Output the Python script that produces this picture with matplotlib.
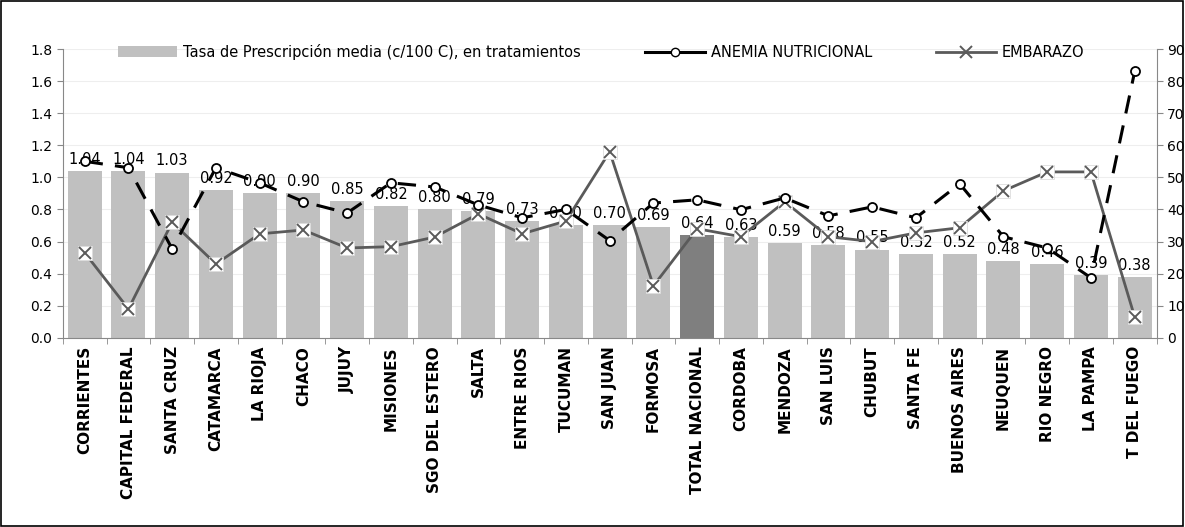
import matplotlib
matplotlib.use("Agg")
import matplotlib.pyplot as plt
from matplotlib.patches import Patch
from matplotlib.lines import Line2D
import numpy as np

provincias = ["CORRIENTES", "CAPITAL FEDERAL", "SANTA CRUZ", "CATAMARCA", "LA RIOJA",
              "CHACO", "JUJUY", "MISIONES", "SGO DEL ESTERO", "SALTA", "ENTRE RIOS",
              "TUCUMAN", "SAN JUAN", "FORMOSA", "TOTAL NACIONAL", "CORDOBA", "MENDOZA",
              "SAN LUIS", "CHUBUT", "SANTA FE", "BUENOS AIRES", "NEUQUEN", "RIO NEGRO",
              "LA PAMPA", "T DEL FUEGO"]
tasa = [1.04, 1.04, 1.03, 0.92, 0.90, 0.90, 0.85, 0.82, 0.80, 0.79, 0.73, 0.70, 0.70,
        0.69, 0.64, 0.63, 0.59, 0.58, 0.55, 0.52, 0.52, 0.48, 0.46, 0.39, 0.38]
anemia = [55, 53, 27.7, 53, 48.3, 42.4, 38.9, 48.3, 47, 41.4, 37.4, 40, 30.3, 42, 43,
          39.9, 43.6, 38, 40.8, 37.4, 48, 31.5, 28, 18.7, 83]
embarazo = [26.5, 9, 36, 23, 32.4, 33.6, 28, 28.4, 31.4, 38.6, 32.4, 36.4, 58, 16.2, 34,
            31.5, 42.4, 31.5, 30, 32.7, 34.3, 45.8, 51.7, 51.7, 6.5]
highlight = "TOTAL NACIONAL"

fig = plt.figure(figsize=(11.85, 5.27), dpi=100)
fig.patches.append(plt.Rectangle((0.001, 0.002), 0.997, 0.996, transform=fig.transFigure,
                                 fill=False, edgecolor="black", linewidth=1.2))
ax = fig.add_axes([0.053, 0.359, 0.923, 0.548])
x = np.arange(len(provincias))
colors = ["#7f7f7f" if p == highlight else "#c0c0c0" for p in provincias]
ax.bar(x, tasa, width=0.78, color=colors, zorder=2)
ax.set_ylim(0, 1.8)
ax.set_yticks(np.arange(0, 1.81, 0.2))
ax.set_yticklabels([f"{v:.1f}" for v in np.arange(0, 1.81, 0.2)], fontsize=10)
ax.set_xlim(-0.5, len(provincias) - 0.5)
ax.set_xticks(x)
ax.set_xticklabels(provincias, rotation=90, fontsize=11, fontweight="bold")
ax.set_xticks(np.arange(-0.5, len(provincias), 1), minor=True)
ax.tick_params(axis="x", which="major", length=0, pad=6)
ax.tick_params(axis="x", which="minor", length=4, color="#888888")
ax.tick_params(axis="y", length=4, color="#888888")
ax.grid(axis="y", color="#eeeeee", linewidth=0.8, zorder=0)
for s in ["top", "right"]:
    ax.spines[s].set_visible(False)
ax.spines["left"].set_color("#888888")
ax.spines["bottom"].set_color("#888888")

for xi, v in zip(x, tasa):
    ax.annotate(f"{v:.2f}", (xi, v), xytext=(0, 3), textcoords="offset points",
                ha="center", va="bottom", fontsize=10.5, zorder=6)

ax2 = ax.twinx()
ax2.set_ylim(0, 90)
ax2.set_yticks(np.arange(0, 91, 10))
ax2.tick_params(axis="y", labelsize=10, length=4, color="#888888")
for s in ["top", "left"]:
    ax2.spines[s].set_visible(False)
ax2.spines["right"].set_color("#888888")
ax2.spines["bottom"].set_visible(False)

ax2.plot(x, anemia, color="black", linewidth=2.2, dashes=(6, 4), marker="o",
         markersize=6.5, markerfacecolor="white", markeredgecolor="black",
         markeredgewidth=1.3, zorder=4)
ax2.plot(x, embarazo, color="#5a5a5a", linewidth=2.0, zorder=3)
ax2.plot(x, embarazo, linestyle="none", marker="s", markersize=9.5,
         markerfacecolor="white", markeredgecolor="#dddddd", markeredgewidth=0.6, zorder=3.5)
ax2.plot(x, embarazo, linestyle="none", marker="x", markersize=8,
         markeredgecolor="#5a5a5a", markeredgewidth=1.4, zorder=3.6)

handles = [Patch(facecolor="#c0c0c0", edgecolor="none"),
           Line2D([], [], color="black", linewidth=2.2, marker="o", markersize=6,
                  markerfacecolor="white", markeredgecolor="black"),
           Line2D([], [], color="#5a5a5a", linewidth=2.0, marker="x", markersize=8,
                  markeredgewidth=1.4)]
labels = ["Tasa de Prescripción media (c/100 C), en tratamientos",
          "ANEMIA NUTRICIONAL", "EMBARAZO"]
ax2.legend(handles, labels, loc="upper center", bbox_to_anchor=(0.492, 1.064), ncol=3,
           frameon=False, fontsize=10.5, handlelength=4.1, columnspacing=4.4,
           handletextpad=0.4)

fig.savefig("out.png", dpi=100)
